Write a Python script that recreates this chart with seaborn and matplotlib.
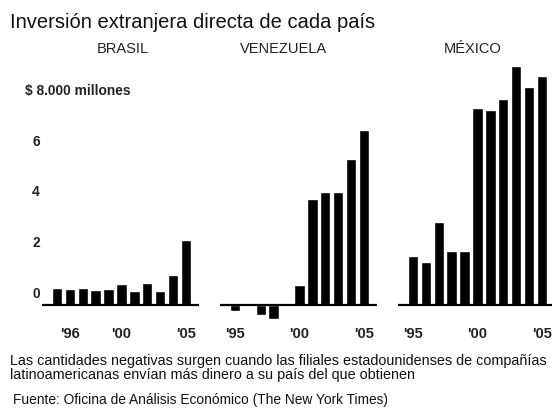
import numpy as np
import pandas as pd
import seaborn as sns
import matplotlib.pyplot as plt
from matplotlib.transforms import blended_transform_factory

# values in billions of dollars, 1995-2005
years = [str(y) for y in range(1995, 2006)]
brasil = [0.69, 0.64, 0.68, 0.59, 0.64, 0.86, 0.55, 0.90, 0.55, 1.21, 2.56]
venezuela = [-0.20, 0.0, -0.36, -0.55, 0.0, 0.82, 4.19, 4.48, 4.48, 5.76, 6.90]
mexico = [1.95, 1.72, 3.28, 2.16, 2.16, 7.78, 7.69, 8.13, 9.41, 8.59, 9.02]

countries = ["BRASIL", "VENEZUELA", "MÉXICO"]
series = [brasil, venezuela, mexico]
tick_pos = [[1, 5, 10], [0, 5, 10], [0, 5, 10]]
tick_labels = [["'96", "'00", "'05"], ["'95", "'00", "'05"], ["'95", "'00", "'05"]]
y_ticks = [0, 2, 4, 6, 8]
y_labels = ["0", "2", "4", "6", "$ 8.000 millones"]

sns.set_style("white")
plt.rcParams["font.family"] = ["Liberation Sans", "DejaVu Sans"]

W, H = 552, 416
fig = plt.figure(figsize=(W / 100, H / 100), dpi=100)

# panel placement (pixels): left edge, width
lefts = [42, 220, 398]
panel_w = 157
title_x = [123, 284, 473]
ylim = (-0.75, 9.7)
ax_bottom = (H - 324.5) / H
ax_height = 265.4 / H

axes = []
for i, (name, vals) in enumerate(zip(countries, series)):
    ax = fig.add_axes([lefts[i] / W, ax_bottom, panel_w / W, ax_height])
    df = pd.DataFrame({"year": years, "value": vals})
    sns.barplot(data=df, x="year", y="value", color="black", saturation=1,
                width=0.8, ax=ax, order=years)
    ax.axhline(0, color="black", lw=1.6, zorder=3)
    ax.set_xlim(-1.15, 11.0)
    ax.set_ylim(*ylim)
    ax.set_xticks(tick_pos[i])
    ax.set_xticklabels(tick_labels[i], fontsize=10.5, fontweight="bold", color="#222222")
    ax.tick_params(axis="x", length=0, pad=2)
    ax.set_yticks([])
    ax.set_xlabel("")
    ax.set_ylabel("")
    for s in ax.spines.values():
        s.set_visible(False)
    ax.patch.set_alpha(0)
    fig.text(title_x[i] / W, 1 - 53 / H, name, ha="center", va="baseline",
             fontsize=10.5, color="#222222")
    axes.append(ax)

# y labels on the left of the first panel
tr = blended_transform_factory(fig.transFigure, axes[0].transData)
for v, lab in zip(y_ticks, y_labels):
    if v == 8:
        axes[0].text(25 / W, v + 0.45, lab, transform=tr, ha="left", va="center",
                     fontsize=9.9, fontweight="bold", color="#222222")
    else:
        axes[0].text(36 / W, v + 0.45, lab, transform=tr, ha="center", va="center",
                     fontsize=9.9, fontweight="bold", color="#222222")

fig.text(10 / W, 1 - 28 / H, "Inversión extranjera directa de cada país",
         ha="left", va="baseline", fontsize=14.5, color="#111111")
fig.text(10 / W, 1 - 365 / H,
         "Las cantidades negativas surgen cuando las filiales estadounidenses de compañías",
         ha="left", va="baseline", fontsize=10.4, color="#111111")
fig.text(10 / W, 1 - 379 / H,
         "latinoamericanas envían más dinero a su país del que obtienen",
         ha="left", va="baseline", fontsize=10.4, color="#111111")
fig.text(13 / W, 1 - 404 / H,
         "Fuente: Oficina de Análisis Económico (The New York Times)",
         ha="left", va="baseline", fontsize=9.9, color="#111111")

fig.savefig("out.png", dpi=100)
